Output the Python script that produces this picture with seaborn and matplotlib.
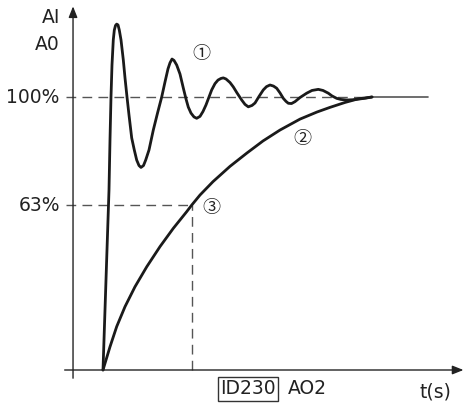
import matplotlib
matplotlib.use("Agg")
import matplotlib.pyplot as plt
import seaborn as sns
import pandas as pd

# ---- data (time in arbitrary units, signal in % of final value) ----
osc_t = [0.000, 0.074, 0.148, 0.222, 0.259, 0.296, 0.333, 0.381, 0.419, 0.463,
         0.507, 0.556, 0.604, 0.667, 0.752, 0.815, 0.889, 0.963, 1.063, 1.159,
         1.248, 1.333, 1.407, 1.500, 1.581, 1.704, 1.863, 2.019, 2.174, 2.296,
         2.407, 2.481, 2.556, 2.630, 2.730, 2.852, 2.974, 3.074, 3.159, 3.259,
         3.370, 3.470, 3.593, 3.704, 3.815, 3.926, 4.026, 4.148, 4.259, 4.370,
         4.456, 4.556, 4.704, 4.826, 4.963, 5.137, 5.259, 5.381, 5.519, 5.630,
         5.778, 5.937, 6.056, 6.185, 6.315, 6.433, 6.556, 6.678, 6.778, 6.863,
         6.981, 7.111, 7.296, 7.544, 7.741, 7.974, 8.148, 8.344, 8.481, 8.656,
         8.815, 9.026, 9.259, 9.519, 9.741, 9.963]
osc_y = [0.0, 22.0, 44.0, 65.9, 84.2, 100.0, 111.7, 120.9, 124.5, 126.2,
         126.7, 126.4, 124.5, 120.9, 113.6, 107.0, 100.0, 93.4, 85.0, 80.6,
         76.9, 74.9, 74.2, 74.9, 76.9, 80.6, 87.9, 94.1, 100.0, 105.5,
         110.3, 112.5, 113.9, 113.4, 111.7, 108.4, 103.3, 99.3, 96.3, 94.1,
         92.7, 92.2, 92.9, 94.7, 97.1, 100.0, 102.6, 104.9, 106.2, 106.8,
         107.0, 106.6, 105.3, 103.7, 101.5, 98.9, 97.3, 96.4, 96.9, 97.8,
         100.2, 102.6, 103.8, 104.4, 104.0, 103.2, 101.5, 99.5, 98.4, 97.7,
         97.6, 98.3, 99.8, 101.4, 102.4, 102.8, 102.4, 101.4, 100.4, 99.5,
         99.1, 98.9, 99.0, 99.3, 99.6, 100.0]

exp_t = [0.000, 0.259, 0.507, 0.815, 1.185, 1.619, 2.111, 2.604, 3.100, 3.285,
         3.593, 4.074, 4.704, 5.333, 5.926, 6.556, 7.296, 7.926, 8.407, 8.963,
         9.444, 9.963]
exp_y = [0.0, 8.5, 15.9, 23.2, 30.5, 37.8, 45.2, 51.9, 58.0, 60.4,
         64.1, 69.0, 74.6, 79.5, 83.9, 87.9, 91.9, 94.5, 96.2, 98.0,
         99.3, 100.0]

level_labels = ["100%", "63%"]
level_values = [100.0, 60.4]
t63 = 3.285
t_end = 9.963

sns.set_theme(style="white")
plt.rcParams['font.family'] = ['DejaVu Sans', 'Noto Sans CJK JP']

fig = plt.figure(figsize=(4.67, 4.04), dpi=100)
ax = fig.add_axes([0, 0, 1, 1])

# view limits chosen so the layout matches the reference
ax.set_xlim(-103 / 27, (467 - 103) / 27)
ax.set_ylim((370 - 404) / 2.73, 370 / 2.73)

txt = '#222222'
gray = '#555555'
dash = (0, (7, 4.5))

# reference lines
ax.plot([-1.37, t_end - 0.1], [level_values[0]] * 2, ls=dash, color=gray, lw=1.0)
ax.plot([t_end, 12.04], [level_values[0]] * 2, color=gray, lw=1.2)
ax.plot([-1.37, t63], [level_values[1]] * 2, ls=dash, color=gray, lw=1.0)
ax.plot([t63, t63], [0, level_values[1]], ls=dash, color=gray, lw=1.0)

# axes with arrows
ax.annotate('', xy=(13.35, 0), xytext=(-1.42, 0),
            arrowprops=dict(arrowstyle='-|>,head_length=0.55,head_width=0.22',
                            color='#222222', lw=1.0, shrinkA=0, shrinkB=0))
ax.annotate('', xy=(-1.11, 133.2), xytext=(-1.11, -3.0),
            arrowprops=dict(arrowstyle='-|>,head_length=0.55,head_width=0.22',
                            color='#222222', lw=1.0, shrinkA=0, shrinkB=0))

# curves
df_osc = pd.DataFrame({"t": osc_t, "y": osc_y})
df_exp = pd.DataFrame({"t": exp_t, "y": exp_y})
sns.lineplot(data=df_osc, x="t", y="y", ax=ax, color='#1a1a1a', lw=2.0,
             sort=False, estimator=None)
sns.lineplot(data=df_exp, x="t", y="y", ax=ax, color='#1a1a1a', lw=2.0,
             sort=False, estimator=None)
for l in ax.lines:
    l.set_solid_joinstyle('round')
    l.set_solid_capstyle('round')
ax.axis('off')

# texts
fs = 13.5
ax.text(-1.6, (370 - 17) / 2.73, "AI", ha='right', va='center', fontsize=fs, color=txt)
ax.text(-1.6, (370 - 44) / 2.73, "A0", ha='right', va='center', fontsize=fs, color=txt)
ax.text(-1.6, level_values[0], level_labels[0], ha='right', va='center', fontsize=fs, color=txt)
ax.text(-1.6, level_values[1], level_labels[1], ha='right', va='center', fontsize=fs, color=txt)
ax.text(12.3, (370 - 392) / 2.73, "t(s)", ha='center', va='center', fontsize=fs, color=txt)
ax.text((248 - 103) / 27, (370 - 389) / 2.73, "ID230", ha='center', va='center',
        fontsize=fs, color=txt,
        bbox=dict(boxstyle='square,pad=0.12', fc='white', ec='#333333', lw=1.0))
ax.text((307 - 103) / 27, (370 - 389) / 2.73, "AO2", ha='center', va='center',
        fontsize=fs, color=txt)

cfs = 13
cfam = ['Noto Sans CJK JP', 'DejaVu Sans']
ax.text((201 - 103) / 27, (370 - 54) / 2.73, "①", ha='center', va='center',
        fontsize=cfs, color=txt, family=cfam)
ax.text((302 - 103) / 27, (370 - 139) / 2.73, "②", ha='center', va='center',
        fontsize=cfs, color=txt, family=cfam)
ax.text((211 - 103) / 27, (370 - 208) / 2.73, "③", ha='center', va='center',
        fontsize=cfs, color=txt, family=cfam)

fig.savefig("out.png", dpi=100)
